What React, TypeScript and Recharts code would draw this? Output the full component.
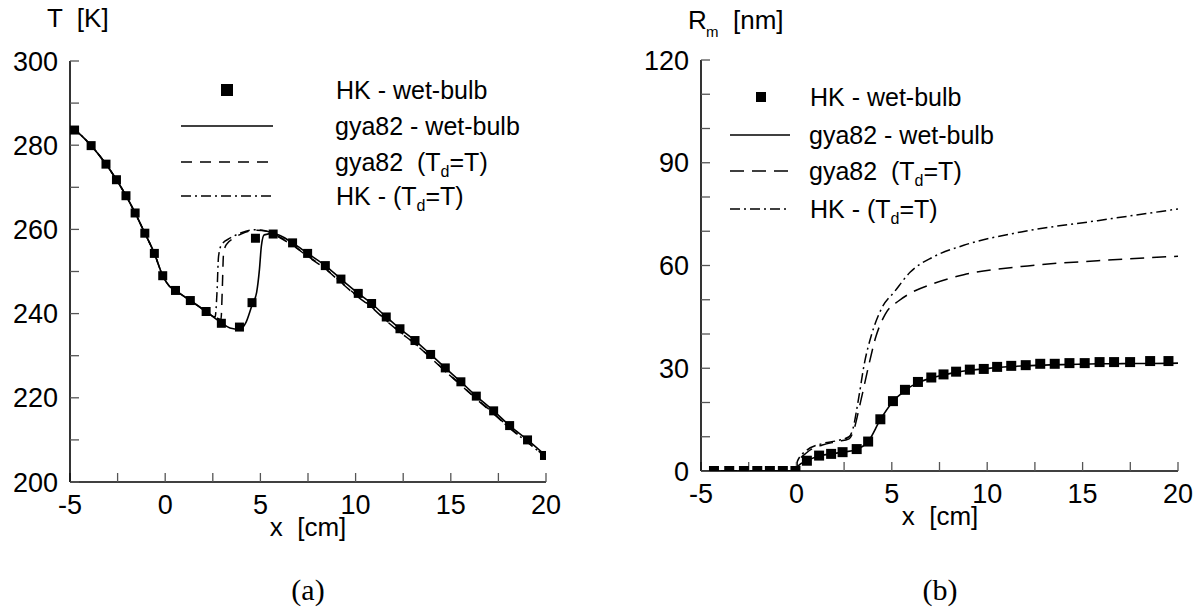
import React from 'react';
import { ComposedChart, Line, Scatter, XAxis, YAxis } from 'recharts';

const FONT = '"Liberation Sans", Arial, Helvetica, sans-serif';
const SERIF = '"Liberation Serif", "DejaVu Serif", serif';

// shared x ticks (cm)
const xTicks = [-5, -2.5, 0, 2.5, 5, 7.5, 10, 12.5, 15, 17.5, 20];
const xLabelTicks = [-5, 0, 5, 10, 15, 20];

// panel (a): temperature T [K]
const tTicks = [200, 210, 220, 230, 240, 250, 260, 270, 280, 290, 300];
const tLabelTicks = [200, 220, 240, 260, 280, 300];

const tHkWetBulb = [
  [-4.76, 283.6], [-3.89, 279.9], [-3.11, 275.5], [-2.56, 271.8], [-2.06, 268.0],
  [-1.58, 263.9], [-1.07, 259.1], [-0.57, 254.3], [-0.13, 249.0], [0.54, 245.5],
  [1.32, 243.1], [2.15, 240.5], [2.95, 237.7], [3.9, 236.8], [4.56, 242.6],
  [4.74, 257.9], [5.67, 258.9], [6.69, 256.8], [7.48, 254.3], [8.41, 251.4],
  [9.23, 248.2], [10.14, 244.8], [10.84, 242.4], [11.61, 239.2], [12.33, 236.4],
  [13.12, 233.6], [13.94, 230.3], [14.71, 227.1], [15.53, 223.8], [16.34, 220.4],
  [17.25, 216.9], [18.09, 213.4], [19.03, 210.0], [19.92, 206.3],
];

const tGyaWetBulb = [
  [-5, 284.2], [-4.76, 283.6], [-3.89, 279.9], [-3.11, 275.5], [-2.56, 271.8],
  [-2.06, 268.0], [-1.58, 263.9], [-1.07, 259.1], [-0.57, 254.3], [-0.13, 249.0],
  [0.2, 246.6], [0.54, 245.5], [1.32, 243.1], [2.15, 240.5], [2.95, 237.8],
  [3.4, 236.6], [3.9, 236.3], [4.25, 238.0], [4.56, 242.0], [4.8, 245.0],
  [4.95, 250.5], [5.05, 256.0], [5.2, 258.7], [5.67, 259.0], [6.69, 256.8],
  [7.48, 254.3], [8.41, 251.4], [9.23, 248.2], [10.14, 244.8], [10.84, 242.4],
  [11.61, 239.2], [12.33, 236.4], [13.12, 233.6], [13.94, 230.3], [14.71, 227.1],
  [15.53, 223.8], [16.34, 220.4], [17.25, 216.9], [18.09, 213.4], [19.03, 210.0],
  [20, 206.2],
];

const tGyaTdEqT = [
  [-5, 284.2], [-4.76, 283.6], [-3.89, 279.9], [-3.11, 275.5], [-2.56, 271.8],
  [-2.06, 268.0], [-1.58, 263.9], [-1.07, 259.1], [-0.57, 254.3], [-0.13, 249.0],
  [0.2, 246.6], [0.54, 245.5], [1.32, 243.1], [2.15, 240.5], [2.7, 239.0],
  [2.93, 238.6], [3.0, 246.0], [3.06, 254.0], [3.2, 256.3], [3.6, 257.9],
  [4.2, 259.3], [4.8, 259.8], [5.4, 259.5], [5.67, 259.0], [6.69, 256.3],
  [7.48, 253.7], [8.41, 250.7], [9.23, 247.5], [10.14, 244.0], [10.84, 241.6],
  [11.61, 238.4], [12.33, 235.7], [13.12, 232.9], [13.94, 229.6], [14.71, 226.4],
  [15.53, 223.1], [16.34, 219.8], [17.25, 216.3], [18.09, 212.9], [19.03, 209.5],
  [20, 205.9],
];

const tHkTdEqT = [
  [-5, 284.2], [-4.76, 283.6], [-3.89, 279.9], [-3.11, 275.5], [-2.56, 271.8],
  [-2.06, 268.0], [-1.58, 263.9], [-1.07, 259.1], [-0.57, 254.3], [-0.13, 249.0],
  [0.2, 246.6], [0.54, 245.5], [1.32, 243.1], [2.15, 240.5], [2.62, 239.2],
  [2.72, 245.0], [2.8, 253.5], [2.95, 256.3], [3.4, 257.9], [4.0, 259.2],
  [4.7, 259.9], [5.4, 259.5], [5.67, 258.9], [6.69, 256.2], [7.48, 253.6],
  [8.41, 250.6], [9.23, 247.4], [10.14, 243.9], [10.84, 241.5], [11.61, 238.3],
  [12.33, 235.6], [13.12, 232.8], [13.94, 229.5], [14.71, 226.3], [15.53, 223.0],
  [16.34, 219.7], [17.25, 216.2], [18.09, 212.8], [19.03, 209.4], [20, 205.8],
];

// panel (b): mean radius R_m [nm]
const rTicks = [0, 10, 20, 30, 40, 50, 60, 70, 80, 90, 100, 110, 120];
const rLabelTicks = [0, 30, 60, 90, 120];

const rHkWetBulb = [
  [-4.32, 0], [-3.52, 0], [-2.75, 0], [-2.05, 0], [-1.39, 0], [-0.71, 0], [-0.05, 0],
  [0.55, 3.0], [1.19, 4.5], [1.82, 5.0], [2.42, 5.5], [3.16, 6.4], [3.76, 8.6],
  [4.4, 15.1], [5.06, 20.4], [5.69, 23.7], [6.37, 26.0], [7.07, 27.3], [7.71, 28.2],
  [8.37, 29.0], [9.09, 29.6], [9.82, 29.8], [10.52, 30.4], [11.26, 30.7], [12.02, 30.9],
  [12.78, 31.3], [13.54, 31.3], [14.31, 31.5], [15.11, 31.5], [15.89, 31.8], [16.65, 31.8],
  [17.49, 31.8], [18.54, 32.1], [19.5, 32.1],
];

const rGyaWetBulb = [
  [-5, 0], [-0.05, 0], [0.1, 1.5], [0.55, 3.0], [1.19, 4.4], [1.82, 5.0], [2.42, 5.5],
  [3.16, 6.3], [3.76, 8.6], [4.4, 15.0], [5.06, 20.3], [5.69, 23.5], [6.37, 25.8],
  [7.07, 27.1], [7.71, 28.0], [8.37, 28.8], [9.09, 29.4], [9.82, 29.8], [10.52, 30.2],
  [11.26, 30.5], [12.02, 30.7], [12.78, 30.9], [13.54, 31.0], [14.31, 31.1], [15.11, 31.2],
  [15.89, 31.3], [16.65, 31.3], [17.49, 31.4], [18.54, 31.4], [20, 31.5],
];

const rGyaTdEqT = [
  [-5, 0], [0, 0], [0.05, 2.2], [0.55, 5.4], [1.36, 7.6], [2.16, 8.6], [2.76, 9.4],
  [2.96, 11.2], [3.36, 20.1], [3.76, 30.1], [4.16, 39.1], [4.66, 45.8], [5.37, 49.7],
  [5.97, 51.9], [7.17, 54.7], [8.77, 57.3], [11.78, 59.7], [15.79, 61.4], [20, 62.7],
];

const rHkTdEqT = [
  [-5, 0], [0, 0], [0.05, 2.8], [0.55, 6.1], [1.36, 8.0], [2.16, 8.9], [2.76, 10.0],
  [2.96, 12.3], [3.26, 21.2], [3.56, 31.3], [3.96, 40.2], [4.46, 47.4], [5.16, 52.5],
  [5.97, 58.1], [7.17, 62.5], [8.77, 65.9], [11.78, 69.8], [15.79, 73.1], [20, 76.5],
];

const legendLabels = ['HK - wet-bulb', 'gya82 - wet-bulb', 'gya82  (T', 'HK - (T'];

const toPts = (arr: number[][]) => arr.map(([x, y]) => ({ x, y }));

const makeSquare = (size: number) => (props: any) => {
  const { cx, cy } = props;
  if (cx == null || cy == null) return <g />;
  return <rect x={cx - size / 2} y={cy - size / 2} width={size} height={size} fill="#000" />;
};

type PanelProps = {
  left: number;
  width: number;
  margin: { top: number; right: number; bottom: number; left: number };
  yAxisWidth: number;
  yDomain: [number, number];
  yTicks: number[];
  yLabels: number[];
  markers: number[][];
  solid: number[][];
  dashed: number[][];
  dashDot: number[][];
  markerSize: number;
  dashPattern: string;
  dashDotPattern: string;
};

const tickStyle = { fontSize: 27, fill: '#000', fontFamily: FONT };
const axisLineStyle = { stroke: '#000', strokeWidth: 1.6 };
const tickLineStyle = { stroke: '#555', strokeWidth: 1.3 };

function Panel(p: PanelProps) {
  const fmtX = (v: number) => (xLabelTicks.includes(v) ? String(v) : '');
  const fmtY = (v: number) => (p.yLabels.includes(v) ? String(v) : '');
  return (
    <div style={{ position: 'absolute', left: p.left, top: 0 }}>
      <ComposedChart width={p.width} height={616} margin={p.margin}>
        <XAxis
          type="number"
          dataKey="x"
          domain={[-5, 20]}
          ticks={xTicks}
          interval={0}
          allowDataOverflow
          tickFormatter={fmtX}
          tickSize={-9}
          tickMargin={22}
          height={40}
          tick={tickStyle}
          axisLine={axisLineStyle}
          tickLine={tickLineStyle}
        />
        <XAxis
          xAxisId="top"
          orientation="top"
          type="number"
          dataKey="x"
          domain={[-5, 20]}
          ticks={xTicks}
          interval={0}
          allowDataOverflow
          tickFormatter={() => ''}
          tickSize={-9}
          height={0}
          axisLine={axisLineStyle}
          tickLine={tickLineStyle}
        />
        <YAxis
          type="number"
          dataKey="y"
          domain={p.yDomain}
          ticks={p.yTicks}
          interval={0}
          allowDataOverflow
          tickFormatter={fmtY}
          tickSize={-9}
          tickMargin={21}
          width={p.yAxisWidth}
          tick={tickStyle}
          axisLine={axisLineStyle}
          tickLine={tickLineStyle}
        />
        <YAxis
          yAxisId="right"
          orientation="right"
          type="number"
          dataKey="y"
          domain={p.yDomain}
          ticks={p.yTicks}
          interval={0}
          allowDataOverflow
          tickFormatter={() => ''}
          tickSize={-9}
          width={0}
          axisLine={axisLineStyle}
          tickLine={tickLineStyle}
        />
        <Line
          data={toPts(p.dashDot)}
          dataKey="y"
          type="monotone"
          dot={false}
          stroke="#000"
          strokeWidth={1.5}
          strokeDasharray={p.dashDotPattern}
          isAnimationActive={false}
        />
        <Line
          data={toPts(p.dashed)}
          dataKey="y"
          type="monotone"
          dot={false}
          stroke="#000"
          strokeWidth={1.5}
          strokeDasharray={p.dashPattern}
          isAnimationActive={false}
        />
        <Line
          data={toPts(p.solid)}
          dataKey="y"
          type="monotone"
          dot={false}
          stroke="#000"
          strokeWidth={1.6}
          isAnimationActive={false}
        />
        <Scatter
          data={toPts(p.markers)}
          dataKey="y"
          shape={makeSquare(p.markerSize)}
          isAnimationActive={false}
        />
      </ComposedChart>
    </div>
  );
}

function LegendBlock(props: {
  markerX: number; lineX1: number; lineX2: number; textX: number; rows: number[];
  markerSize: number; dashPattern: string; dashDotPattern: string;
}) {
  const { markerX, lineX1, lineX2, textX, rows, markerSize } = props;
  const ts = { fontSize: 25, fontFamily: FONT, fill: '#000', whiteSpace: 'pre' as const };
  return (
    <g>
      <rect x={markerX - markerSize / 2} y={rows[0] - markerSize / 2} width={markerSize} height={markerSize} fill="#000" />
      <line x1={lineX1} x2={lineX2} y1={rows[1]} y2={rows[1]} stroke="#000" strokeWidth={1.6} />
      <line x1={lineX1} x2={lineX2} y1={rows[2]} y2={rows[2]} stroke="#000" strokeWidth={1.5} strokeDasharray={props.dashPattern} />
      <line x1={lineX1} x2={lineX2} y1={rows[3]} y2={rows[3]} stroke="#000" strokeWidth={1.5} strokeDasharray={props.dashDotPattern} />
      <text x={textX} y={rows[0] + 9} style={ts}>{legendLabels[0]}</text>
      <text x={textX - 1} y={rows[1] + 9} style={ts}>{legendLabels[1]}</text>
      <text x={textX - 1} y={rows[2] + 9} style={ts}>
        {legendLabels[2]}
        <tspan dy={6} fontSize={16}>d</tspan>
        <tspan dy={-6}>=T)</tspan>
      </text>
      <text x={textX} y={rows[3] + 9} style={ts}>
        {legendLabels[3]}
        <tspan dy={6} fontSize={16}>d</tspan>
        <tspan dy={-6}>=T)</tspan>
      </text>
    </g>
  );
}

export default function App() {
  const lbl = { fontSize: 26, fontFamily: FONT, fill: '#000', whiteSpace: 'pre' as const };
  const cap = { fontSize: 30, fontFamily: SERIF, fill: '#000' };
  return (
    <div style={{ position: 'absolute', left: 0, top: 0, width: 1198, height: 616, background: '#fff', overflow: 'hidden' }}>
      <Panel
        left={0}
        width={600}
        margin={{ top: 61, right: 54, bottom: 94, left: 0 }}
        yAxisWidth={70}
        yDomain={[200, 300]}
        yTicks={tTicks}
        yLabels={tLabelTicks}
        markers={tHkWetBulb}
        solid={tGyaWetBulb}
        dashed={tGyaTdEqT}
        dashDot={tHkTdEqT}
        markerSize={9}
        dashPattern="11 8"
        dashDotPattern="10 4 2 4"
      />
      <Panel
        left={600}
        width={598}
        margin={{ top: 60, right: 20, bottom: 105, left: 0 }}
        yAxisWidth={101}
        yDomain={[0, 120]}
        yTicks={rTicks}
        yLabels={rLabelTicks}
        markers={rHkWetBulb}
        solid={rGyaWetBulb}
        dashed={rGyaTdEqT}
        dashDot={rHkTdEqT}
        markerSize={10}
        dashPattern="14 8"
        dashDotPattern="10 4 2 4"
      />
      <svg width={1198} height={616} style={{ position: 'absolute', left: 0, top: 0, pointerEvents: 'none' }}>
        <text x={47} y={27} style={lbl}>{'T  [K]'}</text>
        <text x={688} y={29} style={lbl}>R</text>
        <text x={706} y={37} style={{ ...lbl, fontSize: 15 }}>m</text>
        <text x={733} y={29} style={lbl}>[nm]</text>
        <text x={308} y={536} textAnchor="middle" style={lbl}>{'x  [cm]'}</text>
        <text x={940} y={525} textAnchor="middle" style={lbl}>{'x  [cm]'}</text>
        <text x={308} y={600} textAnchor="middle" style={cap}>(a)</text>
        <text x={940} y={600} textAnchor="middle" style={cap}>(b)</text>
        <LegendBlock markerX={227} lineX1={181} lineX2={273} textX={336} rows={[90, 126, 162, 196]} markerSize={12} dashPattern="11 8" dashDotPattern="10 4 2 4" />
        <LegendBlock markerX={761} lineX1={730} lineX2={790} textX={810} rows={[97, 135, 171, 209]} markerSize={10} dashPattern="14 8" dashDotPattern="10 4 2 4" />
      </svg>
    </div>
  );
}
